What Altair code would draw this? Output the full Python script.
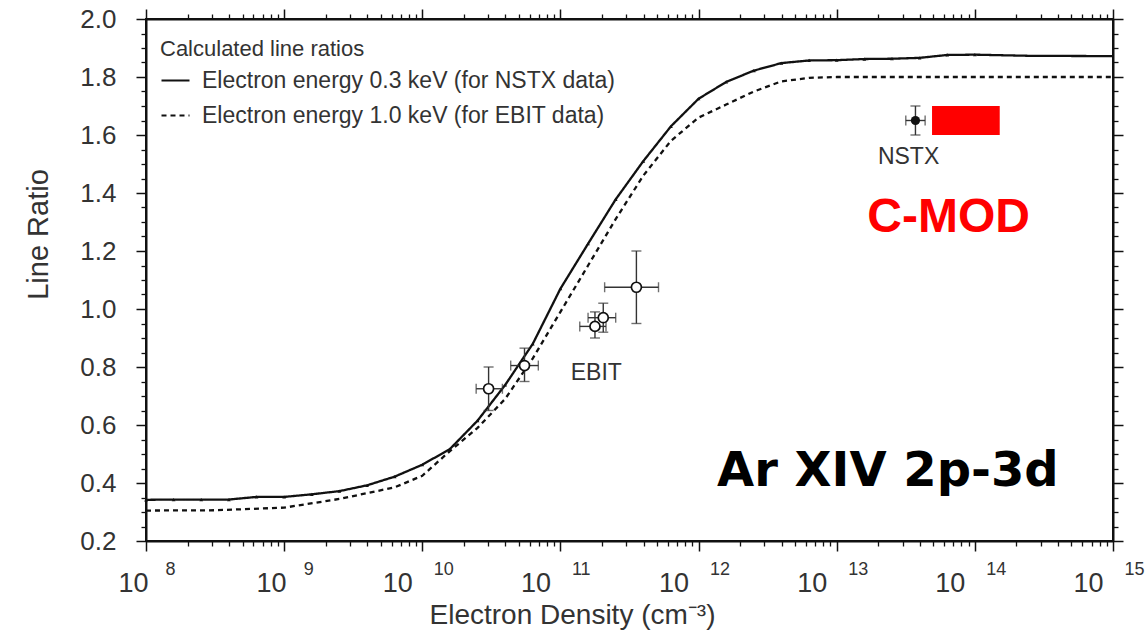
import altair as alt
import pandas as pd

# ---------------- data ----------------
solid_log = [8.0, 8.2, 8.4, 8.6, 8.8, 9.0, 9.2, 9.4, 9.6, 9.8, 10.0, 10.2, 10.4, 10.6,
             10.8, 11.0, 11.2, 11.4, 11.6, 11.8, 12.0, 12.2, 12.4, 12.6, 12.8, 13.0,
             13.2, 13.4, 13.6, 13.8, 14.0, 14.4, 15.0]
solid_ratio = [0.342, 0.343, 0.343, 0.343, 0.352, 0.352, 0.361, 0.372, 0.392, 0.422, 0.463,
               0.517, 0.615, 0.738, 0.88, 1.07, 1.225, 1.378, 1.51, 1.63, 1.725, 1.783,
               1.822, 1.848, 1.857, 1.858, 1.862, 1.863, 1.866, 1.876, 1.877, 1.873, 1.872]

dashed_log = [8.0, 8.5, 9.0, 9.4, 9.8, 10.0, 10.2, 10.4, 10.6, 10.8, 11.0, 11.2, 11.4,
              11.6, 11.8, 12.0, 12.2, 12.4, 12.6, 12.8, 13.0, 15.0]
dashed_ratio = [0.305, 0.306, 0.315, 0.345, 0.385, 0.425, 0.51, 0.59, 0.69, 0.83, 0.99,
                1.15, 1.31, 1.46, 1.58, 1.66, 1.705, 1.75, 1.785, 1.797, 1.80, 1.80]

# measured points: EBIT (open) and NSTX (filled)
pt_kind = ["EBIT", "EBIT", "EBIT", "EBIT", "EBIT", "NSTX"]
pt_log = [10.48, 10.74, 11.25, 11.31, 11.55, 13.57]
pt_log_lo = [10.39, 10.64, 11.14, 11.20, 11.32, 13.50]
pt_log_hi = [10.58, 10.84, 11.33, 11.40, 11.71, 13.64]
pt_ratio = [0.725, 0.805, 0.94, 0.97, 1.075, 1.65]
pt_ratio_lo = [0.65, 0.75, 0.90, 0.92, 0.95, 1.60]
pt_ratio_hi = [0.80, 0.865, 0.99, 1.02, 1.20, 1.70]

# red C-MOD box
cmod_log = [13.69, 14.18]
cmod_ratio = [1.60, 1.70]

# annotations
ann_text = ["EBIT", "NSTX"]
ann_log = [11.26, 13.52]
ann_ratio = [0.78, 1.524]

cmod_label_log, cmod_label_ratio = 13.81, 1.314
ion_label_log, ion_label_ratio = 13.37, 0.438

decade_exp = [8, 9, 10, 11, 12, 13, 14, 15]
y_major = [0.2, 0.4, 0.6, 0.8, 1.0, 1.2, 1.4, 1.6, 1.8, 2.0]

LABEL_SOLID = "Electron energy 0.3 keV (for NSTX data)"
LABEL_DASHED = "Electron energy 1.0 keV (for EBIT data)"

# ---------------- tables ----------------
lines = pd.DataFrame({
    "n": [10 ** v for v in solid_log] + [10 ** v for v in dashed_log],
    "r": solid_ratio + dashed_ratio,
    "series": [LABEL_SOLID] * len(solid_log) + [LABEL_DASHED] * len(dashed_log),
})
markers = pd.DataFrame({"n": [10 ** v for v in solid_log if v <= 14.0],
                        "r": [r for v, r in zip(solid_log, solid_ratio) if v <= 14.0]})
pts = pd.DataFrame({
    "kind": pt_kind,
    "n": [10 ** v for v in pt_log],
    "nlo": [10 ** v for v in pt_log_lo],
    "nhi": [10 ** v for v in pt_log_hi],
    "r": pt_ratio, "rlo": pt_ratio_lo, "rhi": pt_ratio_hi,
})
ebit = pts[pts.kind == "EBIT"]
nstx = pts[pts.kind == "NSTX"]
box = pd.DataFrame({"x1": [10 ** cmod_log[0]], "x2": [10 ** cmod_log[1]],
                    "y1": [cmod_ratio[0]], "y2": [cmod_ratio[1]]})
ann = pd.DataFrame({"t": ann_text, "n": [10 ** v for v in ann_log], "r": ann_ratio})
cmod_lab = pd.DataFrame({"t": ["C-MOD"], "n": [10 ** cmod_label_log], "r": [cmod_label_ratio]})
ion_lab = pd.DataFrame({"t": ["Ar XIV 2p-3d"], "n": [10 ** ion_label_log], "r": [ion_label_ratio]})

decades = [10.0 ** e for e in decade_exp]
x_minor = [m * 10.0 ** e for e in decade_exp[:-1] for m in range(2, 10)]
y_minor = [round(0.2 + 0.05 * i, 2) for i in range(37) if i % 4 != 0]

xs = alt.Scale(type="log", domain=[1e8, 1e15], nice=False)
ys = alt.Scale(domain=[0.2, 2.0], nice=False, zero=False)

INK = "#111111"
TXT = "#333333"

common_ax = dict(grid=False, tickColor=INK, domainColor=INK, domainWidth=2,
                 labelFlush=False, labelOverlap=False, labelBound=False)

# main axes: "10" part of the decade labels
axA_x = alt.Axis(orient="bottom", values=decades, labelExpr="'10'", tickSize=10, tickWidth=1.5,
                 labelFontSize=27, labelColor=TXT, labelAlign="right",
                 labelOffset={"condition": {"test": "datum.value >= 1e10", "value": -10},
                              "value": 2},
                 labelBaseline="top", labelPadding=19,
                 title="Electron Density (cm⁻³)", titleFontSize=28, titleFontWeight="normal",
                 titleColor=TXT, titleX=426, titleY=74, titleAlign="center",
                 titleBaseline="middle", **common_ax)
axA_y = alt.Axis(orient="left", values=y_major, format=".1f", tickSize=10, tickWidth=1.5,
                 labelFontSize=26, labelColor=TXT, labelPadding=20,
                 title="Line Ratio", titleFontSize=29, titleFontWeight="normal", titleColor=TXT,
                 titleX=-108, titleY=215, titleAngle=270, titleAlign="center",
                 titleBaseline="middle", **common_ax)
# minor ticks
axB_x = alt.Axis(orient="bottom", values=x_minor, labels=False, tickSize=5, tickWidth=1.3,
                 domain=False, title=None, **common_ax)
axB_y = alt.Axis(orient="left", values=y_minor, labels=False, tickSize=5, tickWidth=1.3,
                 domain=False, title=None, **common_ax)
# top / right mirrored ticks
axC_x = alt.Axis(orient="top", values=decades, labels=False, tickSize=10, tickWidth=1.5,
                 title=None, **common_ax)
axC_y = alt.Axis(orient="right", values=y_major, labels=False, tickSize=10, tickWidth=1.5,
                 title=None, **common_ax)
axD_x = alt.Axis(orient="top", values=x_minor, labels=False, tickSize=5, tickWidth=1.3,
                 domain=False, title=None, **common_ax)
axD_y = alt.Axis(orient="right", values=y_minor, labels=False, tickSize=5, tickWidth=1.3,
                 domain=False, title=None, **common_ax)
# exponents of the decade labels
axE_x = alt.Axis(orient="bottom", values=decades,
                 labelExpr="toString(round(log(datum.value) / LN10))",
                 ticks=False, tickSize=0, domain=False, labelFontSize=18, labelColor=TXT,
                 labelAlign="left",
                 labelOffset={"condition": {"test": "datum.value >= 1e10", "value": 11},
                              "value": 19},
                 labelBaseline="top", labelPadding=19,
                 title=None, grid=False, labelFlush=False, labelOverlap=False, labelBound=False)

curves = alt.Chart(lines).mark_line(strokeWidth=2.3, color=INK).encode(
    x=alt.X("n:Q", scale=xs, axis=axA_x),
    y=alt.Y("r:Q", scale=ys, axis=axA_y),
    strokeDash=alt.StrokeDash(
        "series:N",
        scale=alt.Scale(domain=[LABEL_SOLID, LABEL_DASHED], range=[[1, 0], [5, 4]]),
        legend=alt.Legend(orient="none", legendX=14, legendY=20,
                          title="Calculated line ratios", titleFontSize=22, titleLimit=600,
                          titleFontWeight="normal", titleColor=TXT, titlePadding=4,
                          labelFontSize=23, labelColor=TXT, labelLimit=700,
                          symbolType="stroke", symbolSize=784, symbolStrokeWidth=2.2,
                          symbolStrokeColor=INK, labelOffset=11, rowPadding=7, padding=0),
    ),
)

curve_marks = alt.Chart(markers).mark_point(shape="triangle-up", filled=True, size=14,
                                            color=INK, opacity=1).encode(
    x=alt.X("n:Q", scale=xs, axis=axB_x),
    y=alt.Y("r:Q", scale=ys, axis=axB_y),
)

err_x = alt.Chart(pts).mark_errorbar(ticks=True, size=10, thickness=1.4, color=TXT).encode(
    x=alt.X("nlo:Q", scale=xs, axis=None),
    x2="nhi:Q",
    y=alt.Y("r:Q", scale=ys, axis=None),
)
err_y = alt.Chart(pts).mark_errorbar(ticks=True, size=10, thickness=1.4, color=TXT).encode(
    x=alt.X("n:Q", scale=xs, axis=None),
    y=alt.Y("rlo:Q", scale=ys, axis=None),
    y2="rhi:Q",
)

ebit_pts = alt.Chart(ebit).mark_point(shape="circle", filled=True, fill="white", stroke=INK,
                                      strokeWidth=1.7, size=100, opacity=1).encode(
    x=alt.X("n:Q", scale=xs, axis=axC_x),
    y=alt.Y("r:Q", scale=ys, axis=axC_y),
)
nstx_pts = alt.Chart(nstx).mark_point(shape="circle", filled=True, color=INK, size=85,
                                      opacity=1).encode(
    x=alt.X("n:Q", scale=xs, axis=axD_x),
    y=alt.Y("r:Q", scale=ys, axis=axD_y),
)

cmod_box = alt.Chart(box).mark_rect(color="#ff0000").encode(
    x=alt.X("x1:Q", scale=xs, axis=None), x2="x2:Q",
    y=alt.Y("y1:Q", scale=ys, axis=None), y2="y2:Q",
)

ann_txt = alt.Chart(ann).mark_text(fontSize=23, color=TXT, align="center",
                                   baseline="middle").encode(
    x=alt.X("n:Q", scale=xs, axis=axE_x),
    y=alt.Y("r:Q", scale=ys, axis=None),
    text="t:N",
)
cmod_txt = alt.Chart(cmod_lab).mark_text(font="Liberation Sans", fontWeight="bold",
                                         fontSize=48, color="#ff0000", align="center",
                                         baseline="middle").encode(
    x=alt.X("n:Q", scale=xs, axis=None),
    y=alt.Y("r:Q", scale=ys, axis=None),
    text="t:N",
)
ion_txt = alt.Chart(ion_lab).mark_text(font="DejaVu Sans", fontWeight="bold", fontSize=48,
                                       color="black", align="center",
                                       baseline="middle").encode(
    x=alt.X("n:Q", scale=xs, axis=None),
    y=alt.Y("r:Q", scale=ys, axis=None),
    text="t:N",
)

chart = alt.layer(
    curves, curve_marks, err_x, err_y, ebit_pts, nstx_pts, cmod_box, ann_txt, cmod_txt, ion_txt
).resolve_axis(
    x="independent", y="independent"
).properties(
    width=967, height=522,
    padding={"left": 146, "top": 19, "right": 35, "bottom": 98},
    autosize=alt.AutoSizeParams(type="none"),
    background="white",
).configure(
    font="Liberation Sans",
).configure_view(
    stroke=INK, strokeWidth=2,
)

chart.save("out.html", embed_options={"renderer": "svg", "actions": False})
